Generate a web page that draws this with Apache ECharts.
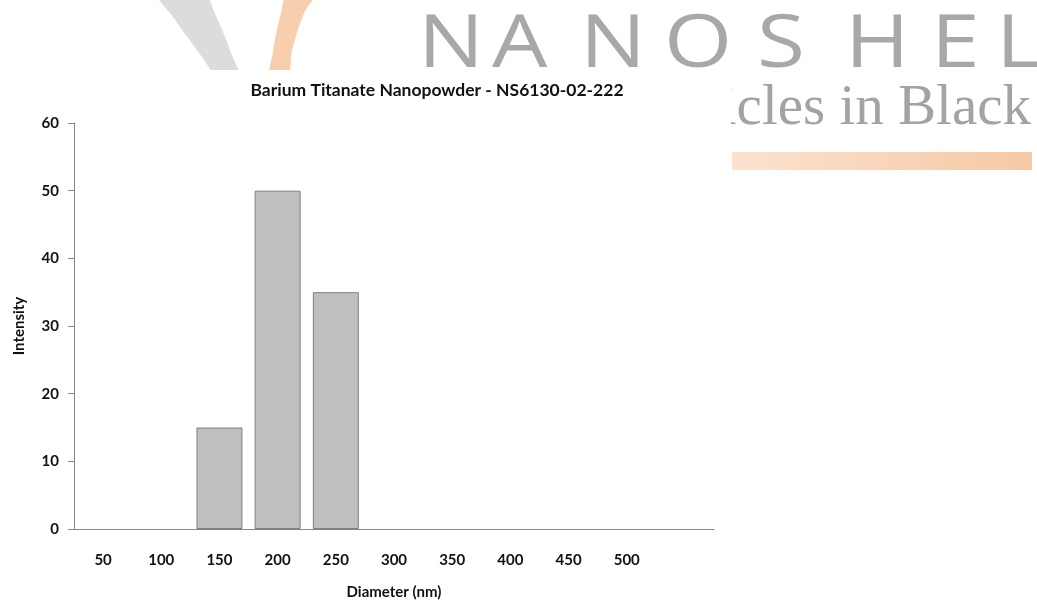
<!DOCTYPE html>
<html>
<head>
<meta charset="utf-8">
<script src="https://cdn.jsdelivr.net/npm/echarts@6/dist/echarts.min.js"></script>
<style>
  html, body { margin: 0; padding: 0; background: #fff; }
  #chart { width: 1037px; height: 601px; }
</style>
</head>
<body>
<div id="chart"></div>
<script>
// Particle size distribution for barium titanate nanopowder
const diameters = ['50', '100', '150', '200', '250', '300', '350', '400', '450', '500', ''];
const intensity = [0, 0, 15, 50, 35, 0, 0, 0, 0, 0, null];
const intensityTicks = { min: 0, max: 60, interval: 10 };

const chartTitle = 'Barium Titanate Nanopowder - NS6130-02-222';
const xName = 'Diameter (nm)';
const yName = 'Intensity';

// Brand letters in the page header
const brandLetters = ['N', 'A', 'N', 'O', 'S', 'H', 'E', 'L'];
const brandLetterX = [418, 492, 580, 664, 757, 845, 931, 996];

const chart = echarts.init(document.getElementById('chart'), null, { renderer: 'canvas' });

const headerGraphics = [
  // grey swoosh
  { type: 'polygon', z: -20,
    shape: { points: [[158, -5], [173, 16.9], [188, 37.8], [202.4, 57.4], [217, 76],
                      [239, 76], [231.3, 53.7], [223.3, 32.8], [214.8, 13.2], [205, -5]], smooth: 0.3 },
    style: { fill: '#dcdcdc' } },
  // orange swoosh
  { type: 'polygon', z: -20,
    shape: { points: [[287, -5], [281, 13.2], [276.3, 32.8], [272.6, 53.7], [270, 76],
                      [288, 76], [291.7, 51.8], [297.8, 30.3], [305, 11.3], [314, -5]], smooth: 0.3 },
    style: { fill: '#f8cfae' } },
  // tagline
  { type: 'text', z: -20, x: 1031, y: 138,
    style: { text: 'Particles in Black', fill: '#a3a3a3', font: '57px "Liberation Serif"',
      textAlign: 'right', textVerticalAlign: 'bottom' } },
  // orange bar
  { type: 'rect', z: -20, shape: { x: 732, y: 152, width: 300, height: 18 },
    style: { fill: { type: 'linear', x: 0, y: 0, x2: 1, y2: 0, colorStops: [
      { offset: 0, color: '#fbe2cf' }, { offset: 1, color: '#f6c9a5' }] } } }
];
brandLetters.forEach((ch, i) => {
  headerGraphics.push({
    type: 'text', z: -20, x: brandLetterX[i], y: 46, scaleX: 1.2,
    style: { text: ch, fill: '#a8a8a8', font: '73px "Open Sans"', textAlign: 'left', textVerticalAlign: 'middle' }
  });
});
// white chart panel over the header art
headerGraphics.push({ type: 'rect', z: -10, shape: { x: 0, y: 70, width: 731, height: 531 }, style: { fill: '#ffffff' } });

const labelFont = { fontFamily: 'Lato', fontWeight: 'bold', fontSize: 15, color: '#111' };

// empty bins get no outline, so nothing is drawn on the axis for them
const barData = intensity.map(v => (v === 0 ? { value: v, itemStyle: { borderWidth: 0 } } : v));

chart.setOption({
  backgroundColor: '#ffffff',
  animation: false,
  graphic: { elements: headerGraphics },
  title: {
    text: chartTitle,
    left: 432, top: 76, textAlign: 'center',
    textStyle: { fontFamily: 'Lato', fontWeight: 'bold', fontSize: 17.5, color: '#111' }
  },
  grid: { left: 74, right: 323, top: 123, bottom: 72, containLabel: false, outerBoundsMode: 'none' },
  xAxis: {
    type: 'category',
    data: diameters,
    boundaryGap: true,
    name: xName,
    nameLocation: 'middle',
    nameGap: 56,
    nameTextStyle: labelFont,
    axisLine: { lineStyle: { color: '#878787', width: 1 } },
    axisTick: { show: false },
    axisLabel: Object.assign({ margin: 24, interval: 0 }, labelFont)
  },
  yAxis: {
    type: 'value',
    min: intensityTicks.min,
    max: intensityTicks.max,
    interval: intensityTicks.interval,
    name: yName,
    nameLocation: 'middle',
    nameGap: 47,
    nameTextStyle: labelFont,
    axisLine: { show: true, lineStyle: { color: '#878787', width: 1 } },
    axisTick: { show: true, length: 6, lineStyle: { color: '#878787' } },
    splitLine: { show: false },
    axisLabel: Object.assign({ margin: 15 }, labelFont)
  },
  series: [{
    type: 'bar',
    data: barData,
    barWidth: '79%',
    itemStyle: { color: '#bfbfbf', borderColor: '#7f7f7f', borderWidth: 1 }
  }]
});
</script>
</body>
</html>
